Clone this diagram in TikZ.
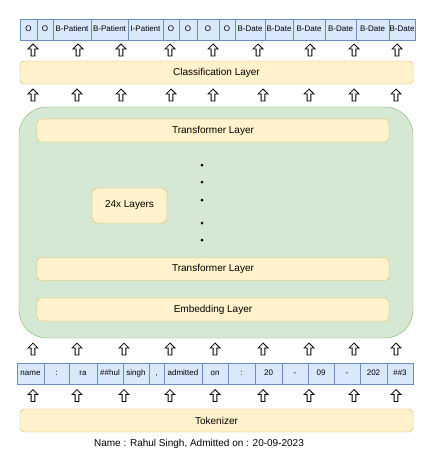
\documentclass[tikz,border=0pt]{standalone}
\usepackage{fontspec}
\setmainfont{Liberation Sans}
\usepackage{xcolor}
\usetikzlibrary{arrows.meta, positioning, shapes.arrows}

\definecolor{cellfill}{HTML}{DAE8FC}
\definecolor{celldraw}{HTML}{6C8EBF}
\definecolor{layerfill}{HTML}{FFF2CC}
\definecolor{layerdraw}{HTML}{D6B656}
\definecolor{encfill}{HTML}{D5E8D4}
\definecolor{encdraw}{HTML}{82B366}

\tikzset{
  cell/.style={draw=celldraw, fill=cellfill, minimum height=21pt, inner sep=0pt, text height=5.8pt, text depth=1.6pt, font=\fontsize{8}{9}\selectfont},
  layer/.style={draw=layerdraw, fill=layerfill, rounded corners=4pt, minimum height=23pt, inner sep=0pt, font=\fontsize{10}{12}\selectfont},
  uparr/.style={single arrow, draw, fill=white, line width=0.8pt, shape border rotate=90, minimum height=12pt, minimum width=10pt, single arrow head extend=3pt, inner sep=1.4pt},
}

\begin{document}
\begin{tikzpicture}[x=1pt, y=-1pt]
      \useasboundingbox[fill=white] (0,0) rectangle (432,474);

      % Output labels
      \foreach \l/\r/\t [count=\i] in {20/37/O, 37/53/O, 53/91/B-Patient, 91/128/B-Patient, 128/163/I-Patient, 163/179/O, 179/197/O, 197/219/O, 219/235/O, 235/265/B-Date, 265/293/B-Date, 293/325/B-Date, 325/356/B-Date, 356/389/B-Date, 389/415/B-Date}{
        \pgfmathsetmacro\w{\r-\l}
        \node[cell, minimum width=\w pt] (tag\i) at ({(\l+\r)/2},29.5) {\t};
      }
      \foreach \x [count=\i] in {33,78,121,170,213,258,310,354,397}
        \node[uparr] (upa\i) at (\x,51) {};

      \node[layer, minimum width=393pt] (cls) at (216.5,72.5) {Classification Layer};
      \foreach \x [count=\i] in {33,77,121,171,213,263,309,354,396}
        \node[uparr] (upb\i) at (\x,96) {};

      % Encoder
      \node[draw=encdraw, fill=encfill, rounded corners=28pt, minimum width=394pt, minimum height=231pt] (enc) at (216,222.5) {};
      \node[layer, minimum width=352pt] (trtop) at (213,130.5) {Transformer Layer};
      \node[layer, rounded corners=5pt, minimum width=75pt, minimum height=35pt] (stack) at (129.5,205.5) {24x Layers};
      \foreach \y [count=\i] in {165,182,200,223,240}
        \fill (202,\y) circle (1.5pt);
      \node[layer, minimum width=352pt] (trbot) at (213,269) {Transformer Layer};
      \node[layer, minimum width=352pt] (emb) at (213,309.5) {Embedding Layer};

      % Tokens
      \foreach \x [count=\i] in {33,77,124,170,215,263,309,354,396}
        \node[uparr] (upc\i) at (\x,350) {};
      \foreach \l/\r/\t [count=\i] in {17/44/name, 44/69/:, 69/97/ra, 97/123/\#\#hul, 123/149/singh, 149/164/{,}, 164/202/admitted, 202/228/on, 228/255/:, 255/282/20, 282/308/-, 308/334/09, 334/360/-, 360/387/202, 387/413/\#\#3}{
        \pgfmathsetmacro\w{\r-\l}
        \node[cell, minimum width=\w pt] (tok\i) at ({(\l+\r)/2},373.5) {\t};
      }
      \foreach \x [count=\i] in {33,77,124,170,215,263,309,354,396}
        \node[uparr] (upd\i) at (\x,396.5) {};

      \node[layer, minimum width=393pt] (tokz) at (216.5,420.5) {Tokenizer};
      \node[font=\fontsize{10}{12}\selectfont] (sent) at (199,444) {Name : Rahul Singh, Admitted on : 20-09-2023};
    \end{tikzpicture}
\end{document}
